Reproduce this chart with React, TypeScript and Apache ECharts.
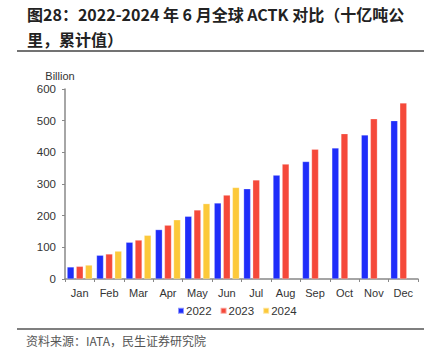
import React, { useEffect, useRef } from "react";
import * as echarts from "echarts";

const months = ["Jan", "Feb", "Mar", "Apr", "May", "Jun", "Jul", "Aug", "Sep", "Oct", "Nov", "Dec"];
const s2022 = [38, 75, 116, 156, 198, 240, 285, 328, 371, 414, 455, 500];
const s2023 = [40, 79, 123, 170, 218, 265, 313, 363, 410, 459, 506, 556];
const s2024: (number | null)[] = [44, 88, 138, 187, 238, 289, null, null, null, null, null, null];
const yTicks = [0, 100, 200, 300, 400, 500, 600];

const titleLine1 = "图28：2022-2024 年 6 月全球 ACTK 对比（十亿吨公";
const titleLine2 = "里，累计值）";
const sourceText = "资料来源：IATA，民生证券研究院";

export default function App() {
  const ref = useRef<HTMLDivElement>(null);
  useEffect(() => {
    if (!ref.current) return;
    const chart = echarts.init(ref.current, null, { renderer: "svg" });
    const font = "Arial, 'Liberation Sans', 'Noto Sans CJK SC', sans-serif";
    const cjk = "'Noto Sans CJK SC', sans-serif";
    const bar = (name: string, data: (number | null)[], color: string) => ({
      name,
      type: "bar",
      data,
      barWidth: 7,
      barGap: "30%",
      itemStyle: { color, borderColor: "rgba(255,255,255,0.5)", borderWidth: 0.5 },
    });
    chart.setOption({
      animation: false,
      textStyle: { fontFamily: font },
      grid: { left: 65, right: 16, top: 89, bottom: 78, containLabel: false },
      xAxis: {
        type: "category",
        data: months,
        axisLine: { lineStyle: { color: "#888", width: 1.5 } },
        axisTick: { show: true, length: 3, lineStyle: { color: "#888" } },
        axisLabel: { color: "#333", fontSize: 11, margin: 8, fontFamily: font },
      },
      yAxis: {
        type: "value",
        min: yTicks[0],
        max: yTicks[yTicks.length - 1],
        interval: 100,
        name: "Billion",
        nameGap: 8,
        nameTextStyle: { color: "#333", fontSize: 11, align: "center", padding: [0, 10, 0, 0], fontFamily: font },
        splitLine: { show: false },
        axisLine: { show: true, lineStyle: { color: "#888", width: 1.5 } },
        axisTick: { show: true, length: 3, lineStyle: { color: "#888" } },
        axisLabel: { color: "#333", fontSize: 11.5, margin: 9, fontFamily: font },
      },
      legend: {
        data: ["2022", "2023", "2024"],
        top: 300,
        left: 172,
        itemWidth: 6,
        itemHeight: 6,
        itemGap: 8,
        icon: "rect",
        textStyle: { color: "#333", fontSize: 11.5, padding: [0, 0, 0, -3], fontFamily: font },
      },
      series: [
        bar("2022", s2022, "#1f2dfa"),
        bar("2023", s2023, "#f5493a"),
        bar("2024", s2024, "#fcc93a"),
      ],
      graphic: [
        {
          type: "text",
          left: 27,
          top: 6,
          style: { text: titleLine1, fontSize: 16, fontWeight: "bold", fill: "#222", fontFamily: cjk },
        },
        {
          type: "text",
          left: 27,
          top: 31,
          style: { text: titleLine2, fontSize: 16, fontWeight: "bold", fill: "#222", fontFamily: cjk },
        },
        {
          type: "line",
          shape: { x1: 17, y1: 51, x2: 424, y2: 51 },
          style: { stroke: "#444", lineWidth: 1.5 },
        },
        {
          type: "line",
          shape: { x1: 17, y1: 329, x2: 424, y2: 329 },
          style: { stroke: "#555", lineWidth: 1.5 },
        },
        {
          type: "text",
          left: 26,
          top: 334,
          style: { text: sourceText, fontSize: 12, fill: "#555", fontFamily: cjk },
        },
      ],
    });
    return () => chart.dispose();
  }, []);
  return (
    <div
      ref={ref}
      style={{ position: "fixed", left: 0, top: 0, width: 434, height: 357, background: "#fff" }}
    />
  );
}
